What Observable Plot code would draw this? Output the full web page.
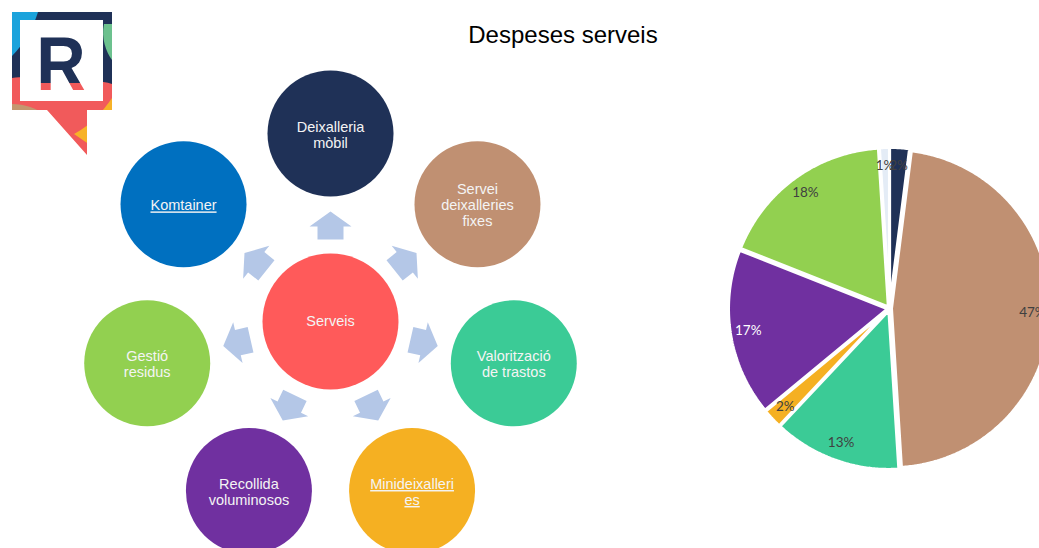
<!DOCTYPE html>
<html><head><meta charset="utf-8">
<script src="https://cdn.jsdelivr.net/npm/d3@7"></script>
<script src="https://cdn.jsdelivr.net/npm/@observablehq/plot@0.6"></script>
<style>
html,body{margin:0;padding:0;background:#fff;overflow:hidden}
#wrap{position:relative;width:1039px;height:548px;font-family:"Liberation Sans",Arial,sans-serif;overflow:hidden}
#chart{position:absolute;left:0;top:0}
#title{position:absolute;left:363px;width:400px;top:21px;text-align:center;font-size:24px;color:#000;font-family:"Liberation Sans",Arial,sans-serif}
#logo{position:absolute;left:0;top:0}
</style></head>
<body>
<div id="wrap">
<div id="chart"></div>
<div id="title">Despeses serveis</div>
<svg id="logo" width="130" height="160">
  <defs>
    <clipPath id="sq"><path d="M12,12H112V110H87V155L47,110H12Z"/></clipPath>
    <linearGradient id="rg" gradientUnits="userSpaceOnUse" x1="0" y1="30" x2="0" y2="92">
      <stop offset="0.86" stop-color="#1f3157"/><stop offset="0.86" stop-color="#f15a5b"/>
    </linearGradient>
  </defs>
  <g clip-path="url(#sq)">
    <rect x="12" y="12" width="100" height="150" fill="#f15a5b"/>
    <path d="M12,12H112V84C95,78 70,86 40,80C28,78 20,76 12,78Z" fill="#1f3157"/>
    <path d="M12,12H38C33,28 24,44 12,56Z" fill="#1ba3dc"/>
    <path d="M112,24V60C106,52 101,38 104,24Z" fill="#6cc18e"/>
    <path d="M12,104C38,104 62,122 84,160H12Z" fill="#c4976f"/>
    <path d="M112,98C102,112 92,124 74,134L112,160Z" fill="#f7b228"/>
  </g>
  <rect x="20" y="20" width="83" height="81" fill="#fff"/>
  <text x="61" y="90" text-anchor="middle" font-size="76" font-weight="bold" font-family="Liberation Sans, Arial, sans-serif" fill="url(#rg)" transform="translate(61,0) scale(0.9,1) translate(-61,0)">R</text>
</svg>
</div>
<script>
// ---- data ----
const services = ["Deixalleria mòbil","Servei deixalleries fixes","Valorització de trastos","Minideixalleries","Recollida voluminosos","Gestió residus","Komtainer"];
const serviceLabels = ["Deixalleria\nmòbil","Servei\ndeixalleries\nfixes","Valorització\nde trastos","Minideixalleri\nes","Recollida\nvoluminosos","Gestió\nresidus","Komtainer"];
const serviceColors = ["#1f3157","#c09072","#3bcb96","#f5b022","#7030a0","#92d050","#0070c0"];
const pieColors = ["#1f3157","#c09072","#3bcb96","#f5b022","#7030a0","#92d050","#e4ecf6"];
const spendingPct = [2,47,13,2,17,18,1];
const hubLabel = "Serveis";
const hubColor = "#ff5a5a";
const underlined = ["Komtainer","Minideixalleries"];

// ---- layout ----
const W = 1039, H = 548;
const hub = {x: 330, y: 321};
const ringR = 188, arrowR = 96, nodeR = 63;
const step = 360 / services.length;
const nodes = services.map((name, i) => {
  const deg = -90 + i * step, a = deg * Math.PI / 180;
  return {name, label: serviceLabels[i], color: serviceColors[i],
    x: hub.x + ringR * Math.cos(a), y: hub.y + ringR * Math.sin(a),
    ax: hub.x + arrowR * Math.cos(a), ay: hub.y + arrowR * Math.sin(a), rot: deg + 90};
});

const blockArrow = {draw(ctx, l) {
  const sw = 13, hw = 21, hl = 15;
  ctx.moveTo(-sw, 0); ctx.lineTo(sw, 0); ctx.lineTo(sw, -(l - hl)); ctx.lineTo(hw, -(l - hl));
  ctx.lineTo(0, -l); ctx.lineTo(-hw, -(l - hl)); ctx.lineTo(-sw, -(l - hl)); ctx.closePath();
}};

const pieData = services.map((name, i) => ({name, value: spendingPct[i], color: pieColors[i]}));
const arcs = d3.pie().sort(null).value(d => d.value)(pieData);
const pc = {x: 889, y: 308}, pR = 159, explode = 2, labelR = 143;
const piePts = [], pieLabels = [];
arcs.forEach(s => {
  const mid = (s.startAngle + s.endAngle) / 2;
  const ox = pc.x + explode * Math.sin(mid), oy = pc.y - explode * Math.cos(mid);
  const base = {name: s.data.name, color: s.data.color};
  piePts.push({...base, x: ox, y: oy});
  const n = Math.max(2, Math.ceil((s.endAngle - s.startAngle) / 0.01));
  for (let k = 0; k <= n; k++) {
    const a = s.startAngle + (s.endAngle - s.startAngle) * k / n;
    piePts.push({...base, x: ox + pR * Math.sin(a), y: oy - pR * Math.cos(a)});
  }
  piePts.push({...base, x: ox, y: oy});
  pieLabels.push({name: s.data.name, text: s.data.value + "%",
    x: pc.x + labelR * Math.sin(mid), y: pc.y - labelR * Math.cos(mid),
    fill: s.data.name === "Recollida voluminosos" ? "#ffffff" : "#404040"});
});

const plot = Plot.plot({
  width: W, height: H, margin: 0,
  x: {domain: [0, W], range: [0, W], axis: null},
  y: {domain: [0, H], range: [0, H], axis: null},
  color: {type: "identity"},
  style: {background: "transparent", overflow: "visible"},
  marks: [
    Plot.vector(nodes, {x: "ax", y: "ay", length: 28, rotate: "rot", anchor: "middle", shape: blockArrow, fill: "#b4c7e7", stroke: "none"}),
    Plot.dot(nodes, {x: "x", y: "y", r: nodeR, fill: "color", stroke: "none"}),
    Plot.dot([hub], {x: "x", y: "y", r: nodeR + 5, fill: hubColor, stroke: "none"}),
    Plot.text(nodes, {x: "x", y: d => d.y + 1, text: "label", fill: "#f4f4f4", fontSize: 14.5, lineHeight: 1.1, fontFamily: "Liberation Sans, Arial, sans-serif"}),
    Plot.text([hub], {x: "x", y: "y", text: () => hubLabel, fill: "#f4f4f4", fontSize: 14.5, fontFamily: "Liberation Sans, Arial, sans-serif"}),
    Plot.line(piePts, {x: "x", y: "y", z: "name", fill: "color", stroke: "white", strokeWidth: 3, strokeLinejoin: "miter", curve: "linear"}),
    Plot.text(pieLabels, {x: "x", y: "y", text: "text", fill: "fill", fontSize: 13.5, fontFamily: "Lato, Open Sans, sans-serif"})
  ]
});
d3.select(plot).selectAll("text").filter(function() {
  const t = this.textContent.replace(/\s/g, "");
  return underlined.some(u => t === u.replace(/\s/g, ""));
}).style("text-decoration", "underline");
document.getElementById("chart").appendChild(plot);
</script>
</body></html>
